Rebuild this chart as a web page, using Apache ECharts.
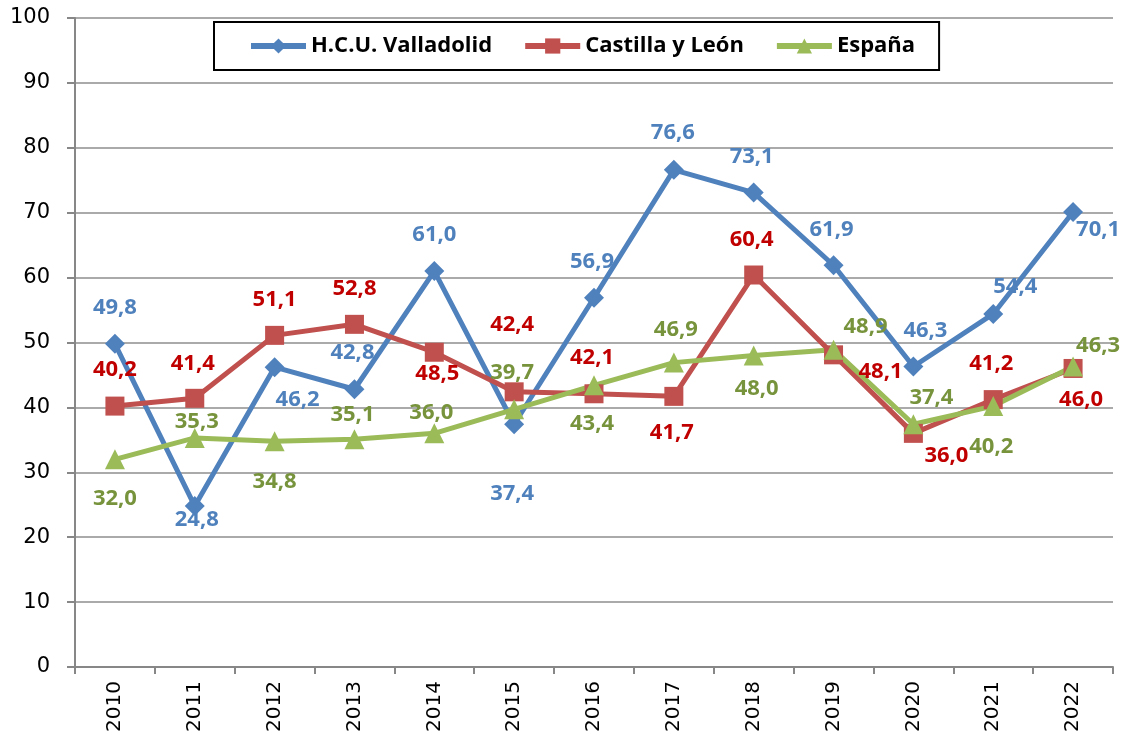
<html lang="es">
<head>
    <meta charset="utf-8">
    <title>Evolución 2010-2022</title>
    <script src="https://cdn.jsdelivr.net/npm/echarts@6/dist/echarts.min.js"></script>
</head>
<style>
    html,body{
        margin:0;
        padding:0;
        background:#fff;
    }
    #chart{
        width:1129px;
        height:740px;
    }
</style>
<body>
<div id="chart"></div>
<script>
    var years=["2010","2011","2012","2013","2014","2015","2016","2017","2018","2019","2020","2021","2022"];
    var hcuValladolid=[49.8,24.8,46.2,42.8,61.0,37.4,56.9,76.6,73.1,61.9,46.3,54.4,70.1];
    var castillaLeon=[40.2,41.4,51.1,52.8,48.5,42.4,42.1,41.7,60.4,48.1,36.0,41.2,46.0];
    var espana=[32.0,35.3,34.8,35.1,36.0,39.7,43.4,46.9,48.0,48.9,37.4,40.2,46.3];

    // desplazamiento de cada etiqueta respecto a su punto (px)
    var hcuOffsets=[[0,-36],[2,14],[23,33],[-2,-36],[0,-36],[-2,69],[-2,-36],[-1,-37],[-2,-36],[-2,-36],[12,-36],[22,-27],[25,18]];
    var cylOffsets=[[0,-36],[-2,-35],[0,-36],[0,-36],[3,21],[-2,-67],[-2,-36],[-2,36],[-2,-35],[47,17],[33,22],[-2,-36],[8,31]];
    var espOffsets=[[0,39],[2,-16],[0,41],[-2,-24],[-3,-21],[-2,-37],[-2,38],[2,-33],[3,33],[32,-23],[18,-27],[-2,41],[25,-21]];

    var AXIS_FONT='DejaVu Sans';
    var TEXT_FONT='Open Sans';

    function withLabels(values,offsets){
        var out=[];
        for(var i=0;i<values.length;i++){
            out.push({value:values[i],label:{offset:offsets[i]}});
        }
        return out;
    }

    function fmt(p){
        return p.value.toFixed(1).replace('.',',');
    }

    function makeSeries(name,values,offsets,color,labelColor,symbol,size){
        return {
            name:name,
            type:'line',
            data:withLabels(values,offsets),
            symbol:symbol,
            symbolSize:size,
            showAllSymbol:true,
            lineStyle:{color:color,width:5},
            itemStyle:{color:color},
            label:{
                show:true,
                position:'inside',
                formatter:fmt,
                color:labelColor,
                fontFamily:TEXT_FONT,
                fontWeight:'bold',
                fontSize:22
            },
            emphasis:{disabled:true},
            animation:false
        };
    }

    var myChart=echarts.init(document.getElementById('chart'),null,{width:1129,height:740});
    var option={
        backgroundColor:'#fff',
        grid:{left:75,right:16,top:18,bottom:73},
        legend:{
            left:214,
            top:22,
            padding:[13,24,13,34],
            itemGap:30,
            itemWidth:55,
            itemHeight:19,
            borderColor:'#000',
            borderWidth:2,
            lineStyle:{width:6},
            textStyle:{color:'#000',fontFamily:TEXT_FONT,fontWeight:'bold',fontSize:22},
            data:['H.C.U. Valladolid','Castilla y León','España']
        },
        xAxis:{
            type:'category',
            data:years,
            boundaryGap:true,
            axisLine:{lineStyle:{color:'#878787',width:2}},
            axisTick:{show:true,length:7,lineStyle:{color:'#878787',width:2}},
            axisLabel:{rotate:90,margin:14,color:'#000',fontFamily:AXIS_FONT,fontSize:20}
        },
        yAxis:{
            type:'value',
            min:0,
            max:100,
            interval:10,
            axisLine:{show:true,lineStyle:{color:'#878787',width:2}},
            axisTick:{show:true,length:8,lineStyle:{color:'#878787',width:2}},
            splitLine:{lineStyle:{color:'#8e8e8e',width:1.5}},
            axisLabel:{margin:25,color:'#000',fontFamily:AXIS_FONT,fontSize:21}
        },
        series:[
            makeSeries('H.C.U. Valladolid',hcuValladolid,hcuOffsets,'#4F81BD','#4F81BD','diamond',20),
            makeSeries('Castilla y León',castillaLeon,cylOffsets,'#C0504D','#C00000','rect',19),
            makeSeries('España',espana,espOffsets,'#9BBB59','#77933C','triangle',20)
        ]
    };
    myChart.setOption(option);
</script>
</body>
</html>
